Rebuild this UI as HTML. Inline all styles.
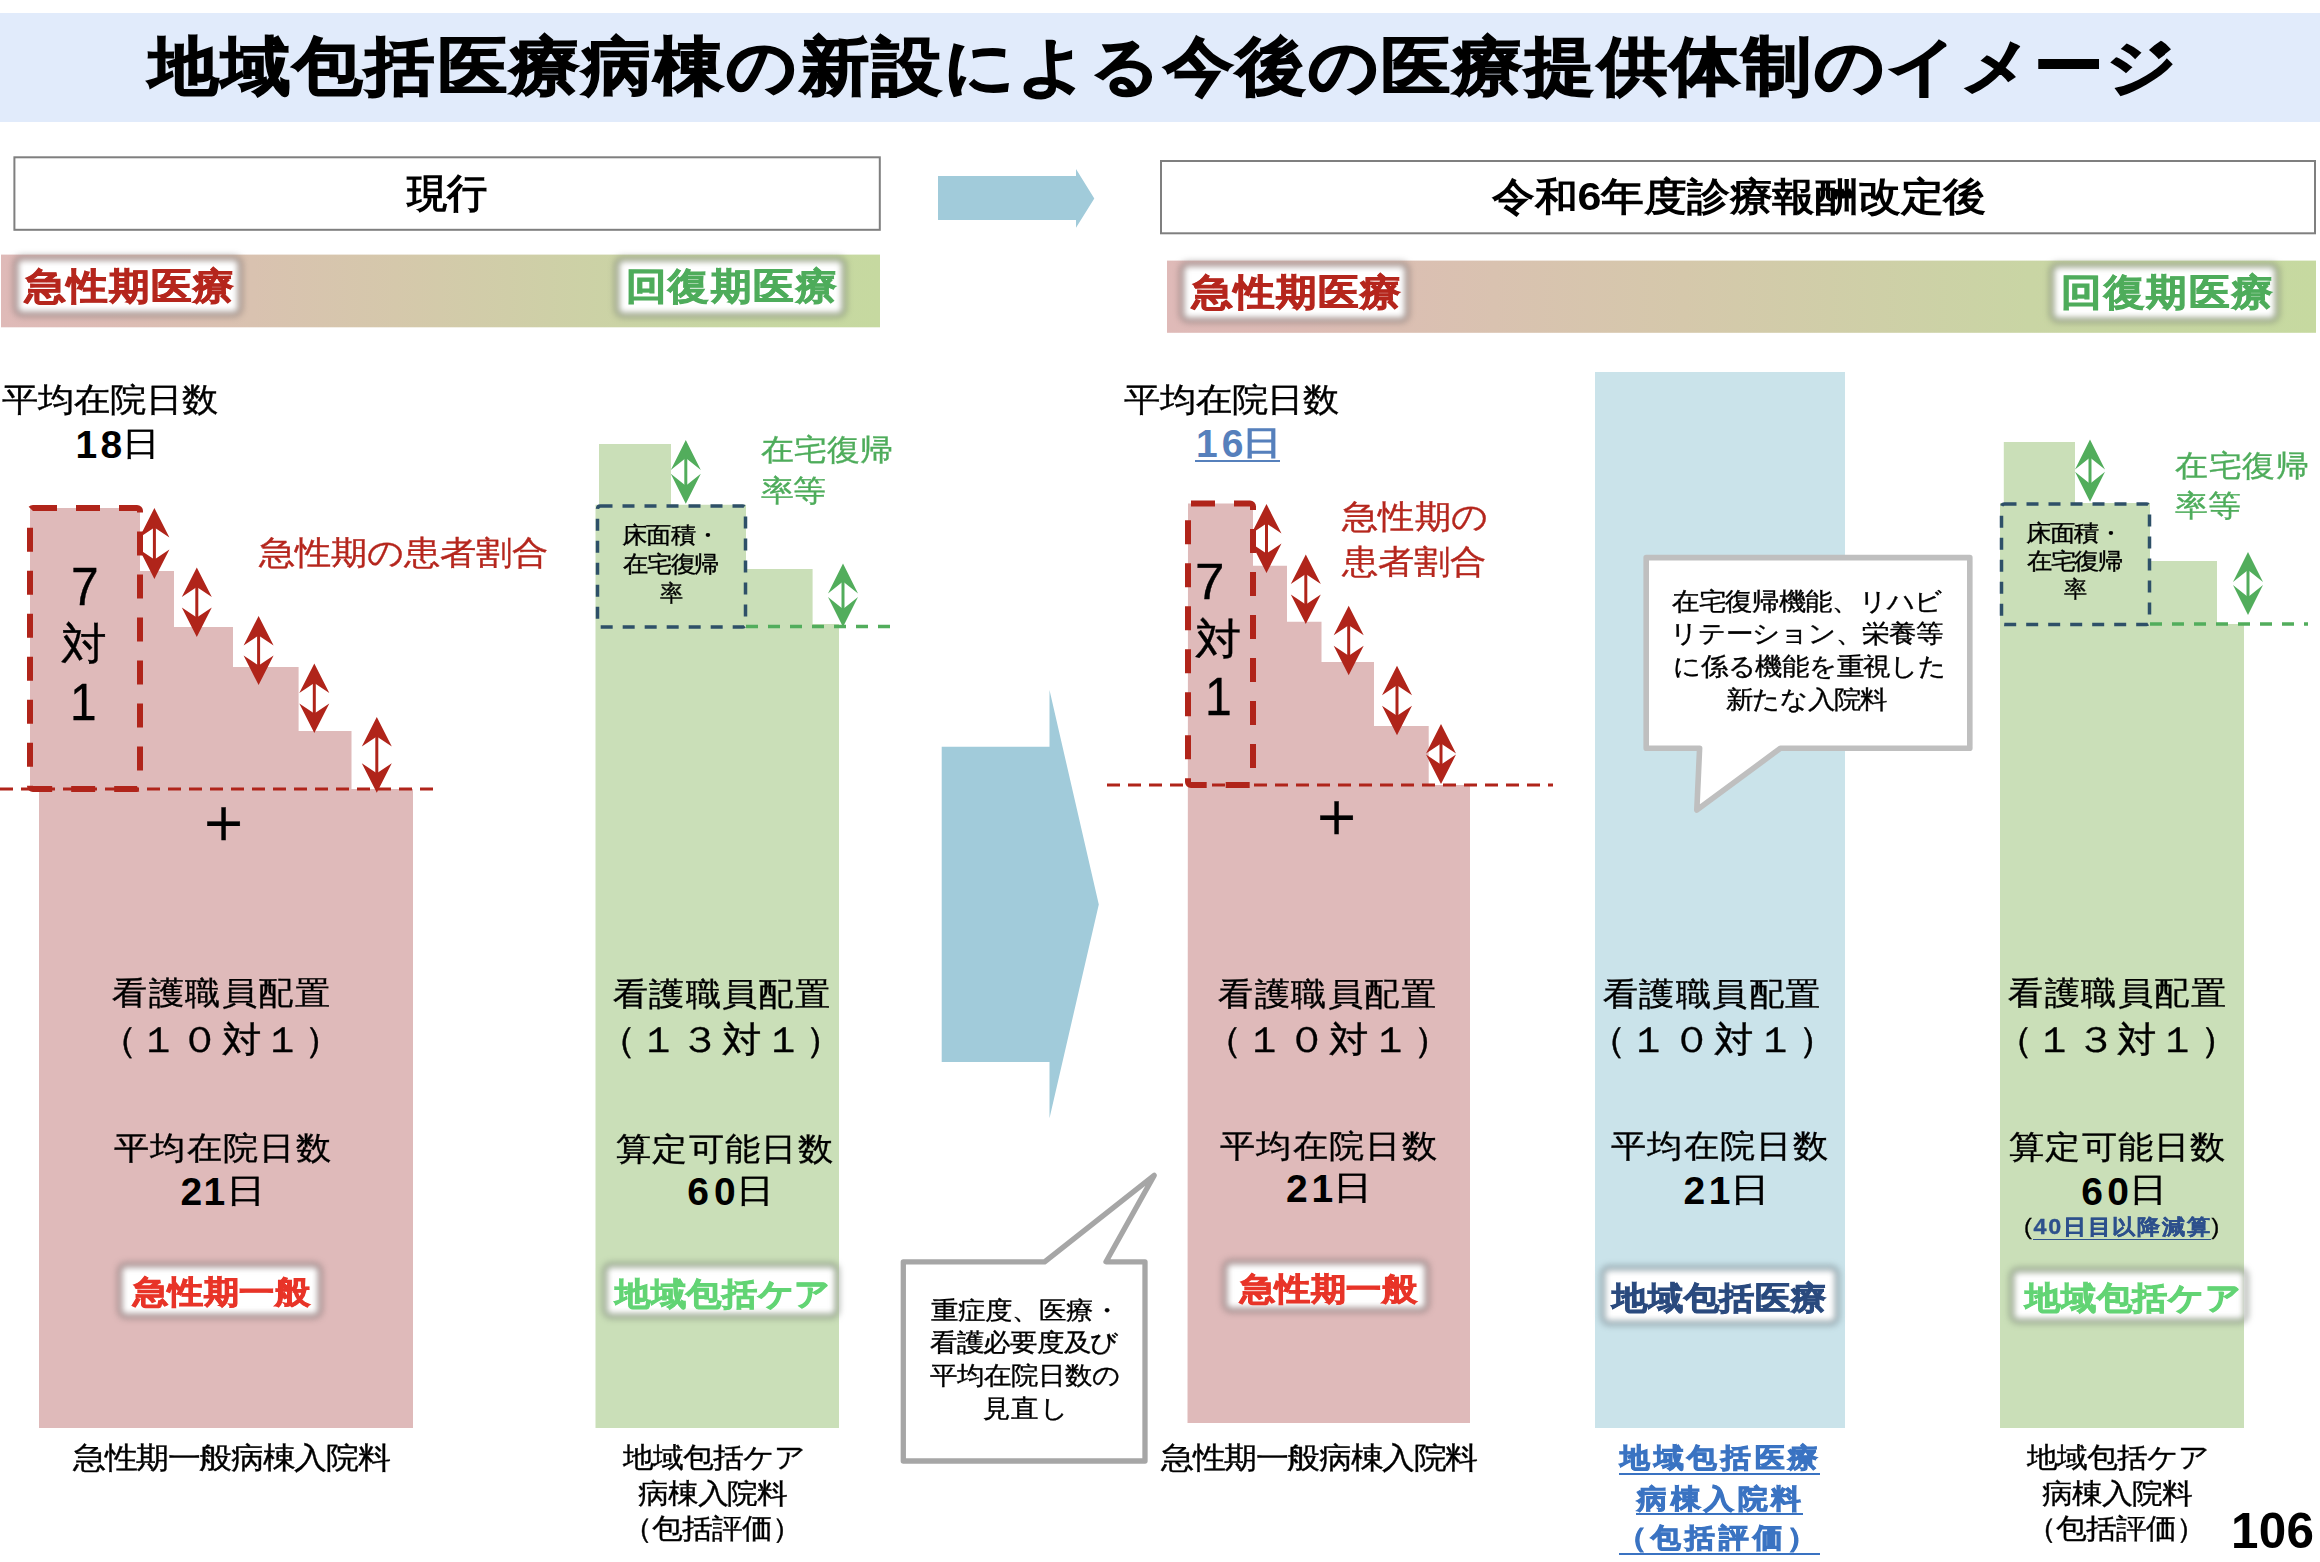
<!DOCTYPE html>
<html><head><meta charset="utf-8"><style>
html,body{margin:0;padding:0;background:#fff;width:2320px;height:1562px;overflow:hidden}
.t{position:absolute;font-family:"Liberation Sans",sans-serif;line-height:1;white-space:nowrap}
.gl{position:absolute;background:#fff;filter:blur(3px);border-radius:4px}
</style></head><body>
<svg width="2320" height="1562" style="position:absolute;left:0;top:0"><defs><linearGradient id="gb" x1="0" x2="1" y1="0" y2="0"><stop offset="0" stop-color="#dfbab8"/><stop offset="0.12" stop-color="#ddbcb5"/><stop offset="0.45" stop-color="#d5c8ab"/><stop offset="0.75" stop-color="#c9d5a4"/><stop offset="1" stop-color="#c6d9a0"/></linearGradient></defs><rect x="0" y="13" width="2320" height="109" fill="#e1ebfb"/><rect x="14.4" y="157.3" width="865.4" height="72.5" fill="#fff" stroke="#7f7f7f" stroke-width="2"/><rect x="1161" y="161" width="1154" height="72.3" fill="#fff" stroke="#7f7f7f" stroke-width="2"/><polygon fill="#a1cbda" points="938,176 1076,176 1076,169 1094.3,198.5 1076,227.7 1076,220 938,220"/><rect x="1" y="254.6" width="879" height="72.7" fill="url(#gb)"/><rect x="1167" y="260.6" width="1149" height="72.2" fill="url(#gb)"/><polygon fill="#dfbaba" points="30,508 140,508 140,571 174,571 174,627 233,627 233,667 298.6,667 298.6,731 351.5,731 351.5,789 413,789 413,1428 39,1428 39,789 30,789"/><polygon fill="#cadfb8" points="599,444 671,444 671,504.7 746,504.7 746,569 812.6,569 812.6,624 839,624 839,1428 595.5,1428 595.5,504.7 599,504.7"/><polygon fill="#dfbaba" points="1188,503.4 1253,503.4 1253,565.8 1287,565.8 1287,621.8 1321.5,621.8 1321.5,662 1374,662 1374,725.9 1428.7,725.9 1428.7,785 1470,785 1470,1423 1187.5,1423"/><rect x="1595" y="372" width="250" height="1056" fill="#cae3ea"/><polygon fill="#cadfb8" points="2003.8,441.9 2075,441.9 2075,503 2150,503 2150,561 2217,561 2217,624 2244,624 2244,1428 2000,1428 2000,503 2003.8,503"/><polygon fill="#a1cbda" points="941.7,746.8 1049.5,746.8 1049.5,690 1098.8,904.5 1049.5,1118.2 1049.5,1062 941.7,1062"/><line x1="0" y1="789" x2="440" y2="789" stroke="#b0241a" stroke-width="3" stroke-dasharray="13 8"/><line x1="1107" y1="785" x2="1553" y2="785" stroke="#b0241a" stroke-width="3" stroke-dasharray="13 8"/><line x1="746" y1="626.5" x2="892" y2="626.5" stroke="#52ad5c" stroke-width="3.5" stroke-dasharray="12 10"/><line x1="2150" y1="624" x2="2308" y2="624" stroke="#52ad5c" stroke-width="3.5" stroke-dasharray="12 10"/><rect x="597.5" y="506" width="148" height="121" rx="3" fill="none" stroke="#2e5068" stroke-width="3.5" stroke-dasharray="12 10"/><rect x="2001.5" y="504" width="148" height="120.5" rx="3" fill="none" stroke="#2e5068" stroke-width="3.5" stroke-dasharray="12 10"/><rect x="30" y="508" width="110" height="281" rx="3" fill="none" stroke="#b0241a" stroke-width="6" stroke-dasharray="24 19"/><rect x="1188" y="503.5" width="65" height="281.5" rx="3" fill="none" stroke="#b0241a" stroke-width="6" stroke-dasharray="24 19"/><line x1="154.4" y1="526.5" x2="154.4" y2="560.5" stroke="#b0241a" stroke-width="3"/><polygon fill="#b0241a" points="154.4,508 169.4,537.5 154.4,527.5 139.4,537.5"/><polygon fill="#b0241a" points="154.4,579 169.4,549.5 154.4,559.5 139.4,549.5"/><line x1="196.8" y1="586.0" x2="196.8" y2="618.5" stroke="#b0241a" stroke-width="3"/><polygon fill="#b0241a" points="196.8,567.5 211.8,597.0 196.8,587.0 181.8,597.0"/><polygon fill="#b0241a" points="196.8,637 211.8,607.5 196.8,617.5 181.8,607.5"/><line x1="258.6" y1="634.5" x2="258.6" y2="666.5" stroke="#b0241a" stroke-width="3"/><polygon fill="#b0241a" points="258.6,616 273.6,645.5 258.6,635.5 243.60000000000002,645.5"/><polygon fill="#b0241a" points="258.6,685 273.6,655.5 258.6,665.5 243.60000000000002,655.5"/><line x1="314.3" y1="682.0" x2="314.3" y2="714.5" stroke="#b0241a" stroke-width="3"/><polygon fill="#b0241a" points="314.3,663.5 329.3,693.0 314.3,683.0 299.3,693.0"/><polygon fill="#b0241a" points="314.3,733 329.3,703.5 314.3,713.5 299.3,703.5"/><line x1="376.8" y1="735.5" x2="376.8" y2="774.3" stroke="#b0241a" stroke-width="3"/><polygon fill="#b0241a" points="376.8,717 391.8,746.5 376.8,736.5 361.8,746.5"/><polygon fill="#b0241a" points="376.8,792.8 391.8,763.3 376.8,773.3 361.8,763.3"/><line x1="1266.5" y1="522.5" x2="1266.5" y2="554.5" stroke="#b0241a" stroke-width="3"/><polygon fill="#b0241a" points="1266.5,504 1281.5,533.5 1266.5,523.5 1251.5,533.5"/><polygon fill="#b0241a" points="1266.5,573 1281.5,543.5 1266.5,553.5 1251.5,543.5"/><line x1="1305.8" y1="573.1" x2="1305.8" y2="605.5" stroke="#b0241a" stroke-width="3"/><polygon fill="#b0241a" points="1305.8,554.6 1320.8,584.1 1305.8,574.1 1290.8,584.1"/><polygon fill="#b0241a" points="1305.8,624 1320.8,594.5 1305.8,604.5 1290.8,594.5"/><line x1="1348.7" y1="624.3" x2="1348.7" y2="656.8" stroke="#b0241a" stroke-width="3"/><polygon fill="#b0241a" points="1348.7,605.8 1363.7,635.3 1348.7,625.3 1333.7,635.3"/><polygon fill="#b0241a" points="1348.7,675.3 1363.7,645.8 1348.7,655.8 1333.7,645.8"/><line x1="1397" y1="684.2" x2="1397" y2="716.7" stroke="#b0241a" stroke-width="3"/><polygon fill="#b0241a" points="1397,665.7 1412,695.2 1397,685.2 1382,695.2"/><polygon fill="#b0241a" points="1397,735.2 1412,705.7 1397,715.7 1382,705.7"/><line x1="1441" y1="742.5" x2="1441" y2="765.6" stroke="#b0241a" stroke-width="3"/><polygon fill="#b0241a" points="1441,724 1456,753.5 1441,743.5 1426,753.5"/><polygon fill="#b0241a" points="1441,784.1 1456,754.6 1441,764.6 1426,754.6"/><line x1="685.8" y1="457" x2="685.8" y2="486.7" stroke="#52ad5c" stroke-width="3"/><polygon fill="#52ad5c" points="685.8,440 700.8,470 685.8,458 670.8,470"/><polygon fill="#52ad5c" points="685.8,503.7 700.8,473.7 685.8,485.7 670.8,473.7"/><line x1="843" y1="580.6" x2="843" y2="610" stroke="#52ad5c" stroke-width="3"/><polygon fill="#52ad5c" points="843,563.6 858,593.6 843,581.6 828,593.6"/><polygon fill="#52ad5c" points="843,627 858,597 843,609 828,597"/><line x1="2090" y1="456.4" x2="2090" y2="484.8" stroke="#52ad5c" stroke-width="3"/><polygon fill="#52ad5c" points="2090,439.4 2105,469.4 2090,457.4 2075,469.4"/><polygon fill="#52ad5c" points="2090,501.8 2105,471.8 2090,483.8 2075,471.8"/><line x1="2248" y1="569" x2="2248" y2="598" stroke="#52ad5c" stroke-width="3"/><polygon fill="#52ad5c" points="2248,552 2263,582 2248,570 2233,582"/><polygon fill="#52ad5c" points="2248,615 2263,585 2248,597 2233,585"/><path d="M903.3,1261.8 L1044.6,1261.8 L1154.2,1175.4 L1106,1261.8 L1145,1261.8 L1145,1461 L903.3,1461 Z" fill="#fff" stroke="#a6a6a6" stroke-width="5.3" stroke-linejoin="round"/><path d="M1646.2,557.6 L1969.8,557.6 L1969.8,748.3 L1780.4,748.3 L1696.8,810.1 L1699.6,748.3 L1646.2,748.3 Z" fill="#fff" stroke="#bfbfbf" stroke-width="5.6" stroke-linejoin="round"/></svg>
<div class="gl" style="left:18px;top:260px;width:220px;height:52px;box-shadow:0 0 2px 4px rgba(95,85,85,0.62)"></div><div class="gl" style="left:619px;top:261px;width:223px;height:52px;box-shadow:0 0 2px 4px rgba(90,100,88,0.62)"></div><div class="gl" style="left:1184px;top:266px;width:221px;height:52px;box-shadow:0 0 2px 4px rgba(95,85,85,0.62)"></div><div class="gl" style="left:2054px;top:267px;width:221px;height:51px;box-shadow:0 0 2px 4px rgba(90,100,88,0.62)"></div><div class="gl" style="left:122px;top:1267px;width:196px;height:47px;box-shadow:0 0 2px 4px rgba(95,85,85,0.62)"></div><div class="gl" style="left:607px;top:1267px;width:228px;height:47px;box-shadow:0 0 2px 4px rgba(90,100,88,0.62)"></div><div class="gl" style="left:1227px;top:1264px;width:198px;height:44px;box-shadow:0 0 2px 4px rgba(95,85,85,0.62)"></div><div class="gl" style="left:1605px;top:1270px;width:230px;height:51px;box-shadow:0 0 2px 4px rgba(80,95,105,0.6)"></div><div class="gl" style="left:2014px;top:1272px;width:230px;height:47px;box-shadow:0 0 2px 4px rgba(90,100,88,0.62)"></div>
<div class="t" style="left:148.75px;top:35.00px;font-size:63.000px;letter-spacing:2.596px;font-weight:bold;color:#000;-webkit-text-stroke:1.6px #000;transform:scaleX(1.1000);transform-origin:0 0;">地域包括医療病棟の新設による今後の医療提供体制のイメージ</div><div class="t" style="left:407.01px;top:174.45px;font-size:39.928px;letter-spacing:0.000px;font-weight:bold;color:#000;transform:scaleX(1.0062);transform-origin:0 0;">現行</div><div class="t" style="left:1492.25px;top:177.15px;font-size:39.172px;letter-spacing:-0.135px;font-weight:bold;color:#000;transform:scaleX(1.1000);transform-origin:0 0;">令和6年度診療報酬改定後</div><div class="t" style="left:25.25px;top:268.50px;font-size:36.600px;letter-spacing:1.227px;font-weight:bold;color:#b5261d;-webkit-text-stroke:0.9px #b5261d;transform:scaleX(1.1000);transform-origin:0 0;">急性期医療</div><div class="t" style="left:625.60px;top:269.45px;font-size:36.600px;letter-spacing:1.568px;font-weight:bold;color:#4eac5b;-webkit-text-stroke:0.9px #4eac5b;transform:scaleX(1.1000);transform-origin:0 0;">回復期医療</div><div class="t" style="left:1191.65px;top:274.75px;font-size:36.600px;letter-spacing:1.091px;font-weight:bold;color:#b5261d;-webkit-text-stroke:0.9px #b5261d;transform:scaleX(1.1000);transform-origin:0 0;">急性期医療</div><div class="t" style="left:2060.80px;top:275.00px;font-size:36.600px;letter-spacing:1.750px;font-weight:bold;color:#4eac5b;-webkit-text-stroke:0.9px #4eac5b;transform:scaleX(1.1000);transform-origin:0 0;">回復期医療</div><div class="t" style="left:1.90px;top:382.55px;font-size:33.200px;letter-spacing:-0.200px;color:#000;-webkit-text-stroke-width:0.35px;transform:scaleX(1.1000);transform-origin:0 0;">平均在院日数</div><div class="t" style="left:75.45px;top:425.05px;font-size:39.000px;letter-spacing:3.300px;font-weight:bold;color:#000;">18</div><div class="t" style="left:122.08px;top:426.85px;font-size:33.000px;letter-spacing:0.000px;color:#000;-webkit-text-stroke-width:0.35px;transform:scaleX(1.1435);transform-origin:0 0;">日</div><div class="t" style="left:1124.00px;top:382.60px;font-size:33.200px;letter-spacing:-0.400px;color:#000;-webkit-text-stroke-width:0.35px;transform:scaleX(1.1000);transform-origin:0 0;">平均在院日数</div><div class="t" style="left:1196.10px;top:423.85px;font-size:39.000px;letter-spacing:4.000px;font-weight:bold;color:#5680bc;">16</div><div class="t" style="left:1242.08px;top:425.75px;font-size:33.000px;letter-spacing:0.000px;font-weight:bold;color:#5680bc;transform:scaleX(1.2043);transform-origin:0 0;">日</div><div class="t" style="left:258.65px;top:536.85px;font-size:32.800px;letter-spacing:-0.312px;color:#b5261d;-webkit-text-stroke-width:0.35px;transform:scaleX(1.1000);transform-origin:0 0;">急性期の患者割合</div><div class="t" style="left:1341.65px;top:500.85px;font-size:32.800px;letter-spacing:0.061px;color:#b5261d;-webkit-text-stroke-width:0.35px;transform:scaleX(1.1000);transform-origin:0 0;">急性期の</div><div class="t" style="left:1341.90px;top:546.35px;font-size:32.800px;letter-spacing:-0.242px;color:#b5261d;-webkit-text-stroke-width:0.35px;transform:scaleX(1.1000);transform-origin:0 0;">患者割合</div><div class="t" style="left:70.80px;top:560.00px;font-size:53.239px;letter-spacing:0.000px;color:#000;-webkit-text-stroke-width:0.35px;transform:scaleX(0.9333);transform-origin:0 0;">7</div><div class="t" style="left:60.80px;top:621.90px;font-size:44.120px;letter-spacing:0.000px;color:#000;-webkit-text-stroke-width:0.35px;transform:scaleX(1.0419);transform-origin:0 0;">対</div><div class="t" style="left:70.35px;top:676.00px;font-size:52.338px;letter-spacing:0.000px;color:#000;-webkit-text-stroke-width:0.35px;transform:scaleX(0.9130);transform-origin:0 0;">1</div><div class="t" style="left:1195.45px;top:557.25px;font-size:49.361px;letter-spacing:0.000px;color:#000;-webkit-text-stroke-width:0.35px;transform:scaleX(1.0739);transform-origin:0 0;">7</div><div class="t" style="left:1195.40px;top:617.85px;font-size:43.076px;letter-spacing:0.000px;color:#000;-webkit-text-stroke-width:0.35px;transform:scaleX(1.0810);transform-origin:0 0;">対</div><div class="t" style="left:1205.18px;top:670.25px;font-size:53.289px;letter-spacing:0.000px;color:#000;-webkit-text-stroke-width:0.35px;transform:scaleX(0.9043);transform-origin:0 0;">1</div><div class="t" style="left:191.75px;top:788.75px;font-size:62.500px;letter-spacing:0.000px;color:#000;-webkit-text-stroke-width:0.35px;">＋</div><div class="t" style="left:1304.60px;top:783.20px;font-size:62.500px;letter-spacing:0.000px;color:#000;-webkit-text-stroke-width:0.35px;">＋</div><div class="t" style="left:760.90px;top:434.40px;font-size:30.400px;letter-spacing:0.091px;color:#4eac5b;-webkit-text-stroke-width:0.35px;transform:scaleX(1.1000);transform-origin:0 0;">在宅復帰</div><div class="t" style="left:760.95px;top:474.80px;font-size:30.400px;letter-spacing:-0.909px;color:#4eac5b;-webkit-text-stroke-width:0.35px;transform:scaleX(1.1000);transform-origin:0 0;">率等</div><div class="t" style="left:2174.85px;top:449.50px;font-size:30.400px;letter-spacing:0.636px;color:#4eac5b;-webkit-text-stroke-width:0.35px;transform:scaleX(1.1000);transform-origin:0 0;">在宅復帰</div><div class="t" style="left:2175.30px;top:490.10px;font-size:30.400px;letter-spacing:0.273px;color:#4eac5b;-webkit-text-stroke-width:0.35px;transform:scaleX(1.1000);transform-origin:0 0;">率等</div><div class="t" style="left:621.70px;top:523.60px;font-size:22.800px;letter-spacing:-0.909px;color:#000;-webkit-text-stroke-width:0.35px;transform:scaleX(1.1000);transform-origin:0 0;">床面積・</div><div class="t" style="left:622.65px;top:552.65px;font-size:22.800px;letter-spacing:-1.394px;color:#000;-webkit-text-stroke-width:0.35px;transform:scaleX(1.1000);transform-origin:0 0;">在宅復帰</div><div class="t" style="left:660.00px;top:581.55px;font-size:22.800px;letter-spacing:0.000px;color:#000;-webkit-text-stroke-width:0.35px;transform:scaleX(1.0091);transform-origin:0 0;">率</div><div class="t" style="left:2025.95px;top:521.50px;font-size:22.800px;letter-spacing:-1.061px;color:#000;-webkit-text-stroke-width:0.35px;transform:scaleX(1.1000);transform-origin:0 0;">床面積・</div><div class="t" style="left:2027.45px;top:550.10px;font-size:22.800px;letter-spacing:-1.545px;color:#000;-webkit-text-stroke-width:0.35px;transform:scaleX(1.1000);transform-origin:0 0;">在宅復帰</div><div class="t" style="left:2064.10px;top:578.40px;font-size:22.800px;letter-spacing:0.000px;color:#000;-webkit-text-stroke-width:0.35px;transform:scaleX(1.0091);transform-origin:0 0;">率</div><div class="t" style="left:112.15px;top:977.00px;font-size:32.000px;letter-spacing:1.236px;color:#000;-webkit-text-stroke-width:0.35px;transform:scaleX(1.1000);transform-origin:0 0;">看護職員配置</div><div class="t" style="left:98.45px;top:1022.90px;font-size:35.500px;letter-spacing:1.473px;color:#000;-webkit-text-stroke-width:0.35px;transform:scaleX(1.1000);transform-origin:0 0;">（１０対１）</div><div class="t" style="left:114.10px;top:1132.15px;font-size:32.000px;letter-spacing:1.000px;color:#000;-webkit-text-stroke-width:0.35px;transform:scaleX(1.1000);transform-origin:0 0;">平均在院日数</div><div class="t" style="left:180.50px;top:1172.25px;font-size:39.000px;letter-spacing:1.400px;font-weight:bold;color:#000;">21</div><div class="t" style="left:226.32px;top:1174.25px;font-size:33.000px;letter-spacing:0.000px;color:#000;-webkit-text-stroke-width:0.35px;transform:scaleX(1.1957);transform-origin:0 0;">日</div><div class="t" style="left:133.25px;top:1277.15px;font-size:31.600px;letter-spacing:0.205px;font-weight:bold;color:#e83428;-webkit-text-stroke:0.9px #e83428;transform:scaleX(1.1000);transform-origin:0 0;">急性期一般</div><div class="t" style="left:73.40px;top:1443.15px;font-size:30.000px;letter-spacing:-1.253px;color:#000;-webkit-text-stroke-width:0.35px;transform:scaleX(1.1000);transform-origin:0 0;">急性期一般病棟入院料</div><div class="t" style="left:612.85px;top:978.15px;font-size:32.000px;letter-spacing:1.018px;color:#000;-webkit-text-stroke-width:0.35px;transform:scaleX(1.1000);transform-origin:0 0;">看護職員配置</div><div class="t" style="left:596.55px;top:1022.65px;font-size:35.500px;letter-spacing:1.909px;color:#000;-webkit-text-stroke-width:0.35px;transform:scaleX(1.1000);transform-origin:0 0;">（１３対１）</div><div class="t" style="left:615.95px;top:1132.70px;font-size:32.000px;letter-spacing:1.036px;color:#000;-webkit-text-stroke-width:0.35px;transform:scaleX(1.1000);transform-origin:0 0;">算定可能日数</div><div class="t" style="left:687.35px;top:1171.95px;font-size:39.000px;letter-spacing:4.900px;font-weight:bold;color:#000;">60</div><div class="t" style="left:735.74px;top:1174.00px;font-size:33.000px;letter-spacing:0.000px;color:#000;-webkit-text-stroke-width:0.35px;transform:scaleX(1.1522);transform-origin:0 0;">日</div><div class="t" style="left:615.35px;top:1278.65px;font-size:31.600px;letter-spacing:0.436px;font-weight:bold;color:#62d474;-webkit-text-stroke:0.9px #62d474;transform:scaleX(1.1000);transform-origin:0 0;">地域包括ケア</div><div class="t" style="left:622.65px;top:1443.55px;font-size:28.000px;letter-spacing:-0.764px;color:#000;-webkit-text-stroke-width:0.35px;transform:scaleX(1.1000);transform-origin:0 0;">地域包括ケア</div><div class="t" style="left:638.05px;top:1479.60px;font-size:28.000px;letter-spacing:-0.909px;color:#000;-webkit-text-stroke-width:0.35px;transform:scaleX(1.1000);transform-origin:0 0;">病棟入院料</div><div class="t" style="left:622.05px;top:1515.10px;font-size:28.000px;letter-spacing:-0.818px;color:#000;-webkit-text-stroke-width:0.35px;transform:scaleX(1.1000);transform-origin:0 0;">（包括評価）</div><div class="t" style="left:1218.05px;top:977.90px;font-size:32.000px;letter-spacing:1.291px;color:#000;-webkit-text-stroke-width:0.35px;transform:scaleX(1.1000);transform-origin:0 0;">看護職員配置</div><div class="t" style="left:1202.65px;top:1022.65px;font-size:35.500px;letter-spacing:2.236px;color:#000;-webkit-text-stroke-width:0.35px;transform:scaleX(1.1000);transform-origin:0 0;">（１０対１）</div><div class="t" style="left:1220.25px;top:1129.80px;font-size:32.000px;letter-spacing:1.036px;color:#000;-webkit-text-stroke-width:0.35px;transform:scaleX(1.1000);transform-origin:0 0;">平均在院日数</div><div class="t" style="left:1286.10px;top:1169.25px;font-size:39.000px;letter-spacing:3.600px;font-weight:bold;color:#000;">21</div><div class="t" style="left:1333.47px;top:1171.35px;font-size:33.000px;letter-spacing:0.000px;color:#000;-webkit-text-stroke-width:0.35px;transform:scaleX(1.1870);transform-origin:0 0;">日</div><div class="t" style="left:1239.60px;top:1274.35px;font-size:31.600px;letter-spacing:0.182px;font-weight:bold;color:#e83428;-webkit-text-stroke:0.9px #e83428;transform:scaleX(1.1000);transform-origin:0 0;">急性期一般</div><div class="t" style="left:1161.05px;top:1443.20px;font-size:30.000px;letter-spacing:-1.263px;color:#000;-webkit-text-stroke-width:0.35px;transform:scaleX(1.1000);transform-origin:0 0;">急性期一般病棟入院料</div><div class="t" style="left:1602.75px;top:978.15px;font-size:32.000px;letter-spacing:1.091px;color:#000;-webkit-text-stroke-width:0.35px;transform:scaleX(1.1000);transform-origin:0 0;">看護職員配置</div><div class="t" style="left:1587.15px;top:1022.65px;font-size:35.500px;letter-spacing:2.436px;color:#000;-webkit-text-stroke-width:0.35px;transform:scaleX(1.1000);transform-origin:0 0;">（１０対１）</div><div class="t" style="left:1611.25px;top:1130.40px;font-size:32.000px;letter-spacing:1.036px;color:#000;-webkit-text-stroke-width:0.35px;transform:scaleX(1.1000);transform-origin:0 0;">平均在院日数</div><div class="t" style="left:1683.45px;top:1170.75px;font-size:39.000px;letter-spacing:3.500px;font-weight:bold;color:#000;">21</div><div class="t" style="left:1730.28px;top:1172.75px;font-size:33.000px;letter-spacing:0.000px;color:#000;-webkit-text-stroke-width:0.35px;transform:scaleX(1.2043);transform-origin:0 0;">日</div><div class="t" style="left:1612.25px;top:1282.95px;font-size:31.600px;letter-spacing:0.564px;font-weight:bold;color:#2a4a7e;-webkit-text-stroke:0.9px #2a4a7e;transform:scaleX(1.1000);transform-origin:0 0;">地域包括医療</div><div class="t" style="left:1620.25px;top:1444.15px;font-size:27.300px;letter-spacing:3.636px;font-weight:bold;color:#3a73c2;-webkit-text-stroke:1px #3a73c2;transform:scaleX(1.1000);transform-origin:0 0;">地域包括医療</div><div class="t" style="left:1637.45px;top:1484.95px;font-size:27.300px;letter-spacing:3.545px;font-weight:bold;color:#3a73c2;-webkit-text-stroke:1px #3a73c2;transform:scaleX(1.1000);transform-origin:0 0;">病棟入院料</div><div class="t" style="left:1616.65px;top:1524.40px;font-size:27.300px;letter-spacing:3.927px;font-weight:bold;color:#3a73c2;-webkit-text-stroke:1px #3a73c2;transform:scaleX(1.1000);transform-origin:0 0;">（包括評価）</div><div class="t" style="left:2008.25px;top:977.00px;font-size:32.000px;letter-spacing:1.218px;color:#000;-webkit-text-stroke-width:0.35px;transform:scaleX(1.1000);transform-origin:0 0;">看護職員配置</div><div class="t" style="left:1994.35px;top:1022.90px;font-size:35.500px;letter-spacing:1.364px;color:#000;-webkit-text-stroke-width:0.35px;transform:scaleX(1.1000);transform-origin:0 0;">（１３対１）</div><div class="t" style="left:2009.35px;top:1130.50px;font-size:32.000px;letter-spacing:0.982px;color:#000;-webkit-text-stroke-width:0.35px;transform:scaleX(1.1000);transform-origin:0 0;">算定可能日数</div><div class="t" style="left:2081.30px;top:1171.85px;font-size:39.000px;letter-spacing:4.200px;font-weight:bold;color:#000;">60</div><div class="t" style="left:2129.02px;top:1173.45px;font-size:33.000px;letter-spacing:0.000px;color:#000;-webkit-text-stroke-width:0.35px;transform:scaleX(1.1565);transform-origin:0 0;">日</div><div class="t" style="left:2023.90px;top:1215.85px;font-size:21.194px;letter-spacing:1.539px;color:#000;-webkit-text-stroke-width:0.35px;transform:scaleX(1.1000);transform-origin:0 0;">(<b style='color:#2d508c'>40日目以降減算</b>)</div><div class="t" style="left:2024.95px;top:1282.50px;font-size:31.600px;letter-spacing:0.527px;font-weight:bold;color:#62d474;-webkit-text-stroke:0.9px #62d474;transform:scaleX(1.1000);transform-origin:0 0;">地域包括ケア</div><div class="t" style="left:2026.90px;top:1443.60px;font-size:28.000px;letter-spacing:-0.655px;color:#000;-webkit-text-stroke-width:0.35px;transform:scaleX(1.1000);transform-origin:0 0;">地域包括ケア</div><div class="t" style="left:2042.05px;top:1479.95px;font-size:28.000px;letter-spacing:-0.795px;color:#000;-webkit-text-stroke-width:0.35px;transform:scaleX(1.1000);transform-origin:0 0;">病棟入院料</div><div class="t" style="left:2026.45px;top:1515.40px;font-size:28.000px;letter-spacing:-0.673px;color:#000;-webkit-text-stroke-width:0.35px;transform:scaleX(1.1000);transform-origin:0 0;">（包括評価）</div><div class="t" style="left:2231.00px;top:1505.55px;font-size:49.395px;letter-spacing:0.236px;font-weight:bold;color:#000;">106</div><div class="t" style="left:930.55px;top:1298.30px;font-size:25.000px;letter-spacing:-0.439px;color:#000;-webkit-text-stroke-width:0.35px;transform:scaleX(1.1000);transform-origin:0 0;">重症度、医療・</div><div class="t" style="left:929.85px;top:1329.75px;font-size:25.000px;letter-spacing:-0.697px;color:#000;-webkit-text-stroke-width:0.35px;transform:scaleX(1.1000);transform-origin:0 0;">看護必要度及び</div><div class="t" style="left:930.35px;top:1363.35px;font-size:25.000px;letter-spacing:-0.485px;color:#000;-webkit-text-stroke-width:0.35px;transform:scaleX(1.1000);transform-origin:0 0;">平均在院日数の</div><div class="t" style="left:982.85px;top:1395.85px;font-size:25.000px;letter-spacing:0.773px;color:#000;-webkit-text-stroke-width:0.35px;transform:scaleX(1.1000);transform-origin:0 0;">見直し</div><div class="t" style="left:1672.30px;top:589.30px;font-size:25.000px;letter-spacing:-0.747px;color:#000;-webkit-text-stroke-width:0.35px;transform:scaleX(1.1000);transform-origin:0 0;">在宅復帰機能、リハビ</div><div class="t" style="left:1669.75px;top:621.25px;font-size:25.000px;letter-spacing:-0.717px;color:#000;-webkit-text-stroke-width:0.35px;transform:scaleX(1.1000);transform-origin:0 0;">リテーション、栄養等</div><div class="t" style="left:1672.75px;top:654.10px;font-size:25.000px;letter-spacing:-0.727px;color:#000;-webkit-text-stroke-width:0.35px;transform:scaleX(1.1000);transform-origin:0 0;">に係る機能を重視した</div><div class="t" style="left:1726.35px;top:686.80px;font-size:25.000px;letter-spacing:-0.964px;color:#000;-webkit-text-stroke-width:0.35px;transform:scaleX(1.1000);transform-origin:0 0;">新たな入院料</div>
<div style="position:absolute;left:1195.2px;top:460.3px;width:85.09999999999991px;height:2px;background:#5680bc"></div><div style="position:absolute;left:2033px;top:1238.5px;width:178px;height:1.6px;background:#2d508c"></div><div style="position:absolute;left:1619px;top:1473.3px;width:200.5px;height:2px;background:#3a73c2"></div><div style="position:absolute;left:1636px;top:1513.4px;width:166.5px;height:2px;background:#3a73c2"></div><div style="position:absolute;left:1619px;top:1553.3px;width:200.5px;height:2px;background:#3a73c2"></div>
</body></html>
